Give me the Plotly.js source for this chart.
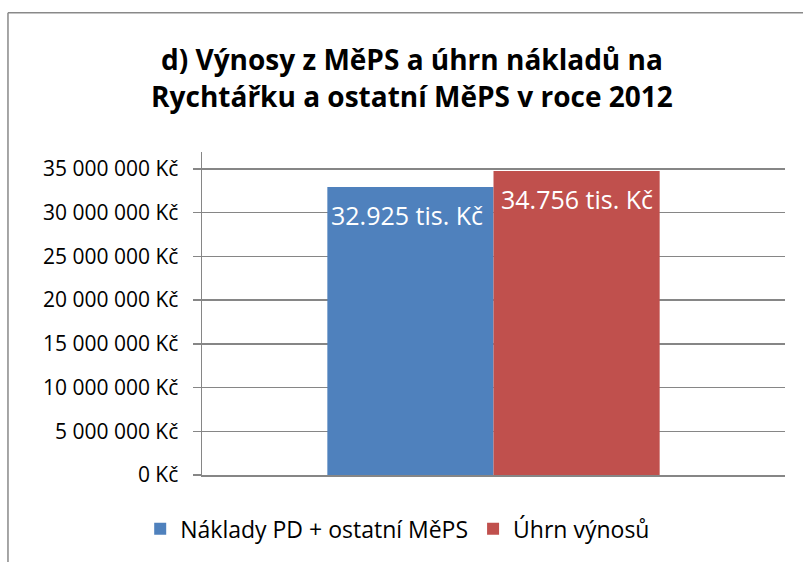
<!DOCTYPE html>
<html>
<head>
<meta charset="utf-8">
<script src="https://cdn.plot.ly/plotly-3.0.1.min.js"></script>
<style>html,body{margin:0;padding:0;background:#fff;}#chart{width:803px;height:562px;}</style>
</head>
<body>
<div id="chart"></div>
<script>
const categories = ["2012"];
const seriesNames = ["Náklady PD + ostatní MěPS", "Úhrn výnosů"];
const costValues = [32925000];
const revenueValues = [34756000];
const costLabels = ["32.925 tis. Kč"];
const revenueLabels = ["34.756 tis. Kč"];
const tickValues = [0, 5000000, 10000000, 15000000, 20000000, 25000000, 30000000, 35000000];
const tickLabels = ["0 Kč", "5 000 000 Kč", "10 000 000 Kč", "15 000 000 Kč", "20 000 000 Kč", "25 000 000 Kč", "30 000 000 Kč", "35 000 000 Kč"];

const font = "'Open Sans', Lato, sans-serif";
const grid = "#868686";
const blue = "#4F81BD";
const red = "#C0504D";

const traces = [
  {
    type: "bar", name: seriesNames[0], x: categories, y: costValues,
    marker: {color: blue}, hoverinfo: "none"
  },
  {
    type: "bar", name: seriesNames[1], x: categories, y: revenueValues,
    marker: {color: red}, hoverinfo: "none"
  }
];

const labelFont = {color: "#ffffff", size: 25, family: font};
const annotations = [
  {x: categories[0], y: costValues[0], xref: "x", yref: "y", text: costLabels[0], showarrow: false,
   xanchor: "center", yanchor: "middle", xshift: -87, yshift: -28, font: labelFont},
  {x: categories[0], y: revenueValues[0], xref: "x", yref: "y", text: revenueLabels[0], showarrow: false,
   xanchor: "center", yanchor: "middle", xshift: 83, yshift: -28, font: labelFont}
];

const layout = {
  width: 803, height: 562,
  margin: {l: 202, r: 18, t: 152, b: 85},
  paper_bgcolor: "#ffffff", plot_bgcolor: "#ffffff",
  font: {family: font, color: "#000000"},
  title: {
    text: "<b>d) Výnosy z MěPS a úhrn nákladů na<br>Rychtářku a ostatní MěPS v roce 2012</b>",
    font: {size: 28, family: font, color: "#000000"},
    x: 0.513, xanchor: "center", xref: "container", y: 0.875, yanchor: "top", yref: "container"
  },
  barmode: "group", bargap: 0.43, bargroupgap: 0,
  showlegend: true,
  legend: {
    orientation: "h", x: -0.106, xanchor: "left", y: -0.10, yanchor: "top",
    font: {size: 23, family: font, color: "#000000"},
    itemwidth: 30, tracegroupgap: 0
  },
  annotations: annotations,
  xaxis: {
    showticklabels: false, showgrid: false, zeroline: false,
    showline: true, linecolor: grid, linewidth: 1.5, ticks: "", fixedrange: true
  },
  yaxis: {
    range: [0, 36930000], tickvals: tickValues, ticktext: tickLabels,
    showgrid: true, gridcolor: grid, gridwidth: 1.5, zeroline: false,
    showline: true, linecolor: grid, linewidth: 1.5,
    ticks: "outside", ticklen: 8, tickcolor: grid, tickwidth: 1.5,
    tickfont: {size: 21, family: font, color: "#000000"}, ticklabelstandoff: 10, fixedrange: true
  },
  shapes: [
    {type: "line", xref: "paper", yref: "paper", x0: -0.3328, x1: 1.05, y0: 1.4308, y1: 1.4308, line: {color: "#898989", width: 1.5}},
    {type: "line", xref: "paper", yref: "paper", x0: -0.3328, x1: -0.3328, y0: 1.4308, y1: -0.3, line: {color: "#898989", width: 1.5}}
  ]
};

Plotly.newPlot("chart", traces, layout, {displayModeBar: false, staticPlot: true});
</script>
</body>
</html>
